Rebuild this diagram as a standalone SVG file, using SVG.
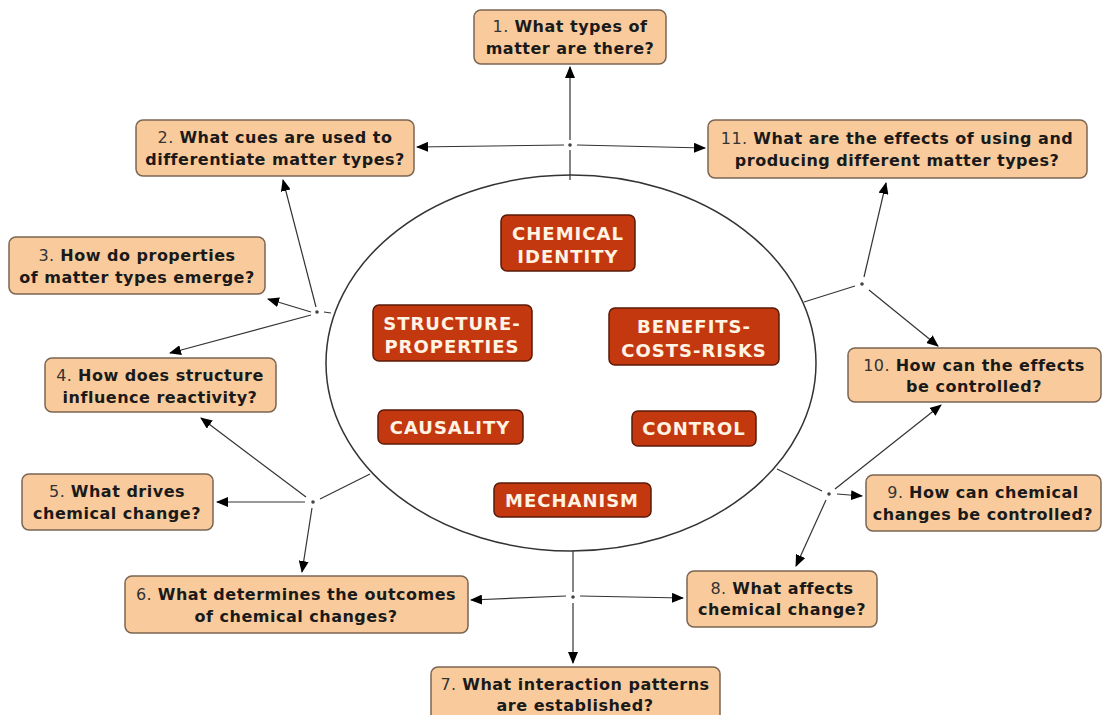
<svg xmlns="http://www.w3.org/2000/svg" width="1102" height="715" viewBox="0 0 1102 715">
<style>
.q rect{fill:#F9CB9C;stroke:#7a6552;stroke-width:1.5}
.q text{font-family:"DejaVu Sans",Verdana,sans-serif;font-size:16px;letter-spacing:0.5px;font-weight:bold;fill:#1a1a1a;text-anchor:middle}
.q tspan.n{font-weight:normal;fill:#333}
.c rect{fill:#C4380F;stroke:#5a1a08;stroke-width:1.5}
.c text{font-family:"DejaVu Sans",Verdana,sans-serif;font-size:18px;letter-spacing:1px;font-weight:bold;fill:#FFF3E3;text-anchor:middle}
.ln line{stroke:#333;stroke-width:1.2;fill:none}
.ln line.a{marker-end:url(#ah)}
.j{fill:#444}
</style>
<defs>
<marker id="ah" viewBox="0 0 12 10" refX="11" refY="5" markerWidth="12" markerHeight="10" markerUnits="userSpaceOnUse" orient="auto">
<path d="M0,0 L12,5 L0,10 z" fill="#000"/>
</marker>
</defs>
<rect width="1102" height="715" fill="#fff"/>
<g id="ellipse"><ellipse cx="571" cy="363" rx="245" ry="188" fill="#fff" stroke="#333" stroke-width="1.5"/></g>

<g class="ln" id="connectors">
<line x1="570" y1="180" x2="570" y2="150"/>
<line class="a" x1="570" y1="140" x2="570" y2="67"/>
<line class="a" x1="564" y1="145" x2="417" y2="147"/>
<line class="a" x1="577" y1="145" x2="705" y2="148"/>
<circle class="j" cx="570" cy="145" r="1.8"/>

<line x1="331" y1="313" x2="324" y2="312"/>
<line class="a" x1="316" y1="307" x2="283" y2="180"/>
<line class="a" x1="311" y1="312" x2="268" y2="299"/>
<line class="a" x1="311" y1="315" x2="170" y2="353"/>
<circle class="j" cx="317" cy="312" r="1.8"/>

<line x1="370" y1="474" x2="320" y2="499"/>
<line class="a" x1="306" y1="497" x2="201" y2="418"/>
<line class="a" x1="305" y1="502" x2="217" y2="502"/>
<line class="a" x1="312" y1="508" x2="302" y2="572"/>
<circle class="j" cx="313" cy="502" r="1.8"/>

<line x1="573" y1="551" x2="573" y2="592"/>
<line class="a" x1="566" y1="596" x2="471" y2="600"/>
<line class="a" x1="573" y1="603" x2="573" y2="663"/>
<line class="a" x1="580" y1="596" x2="683" y2="598"/>
<circle class="j" cx="573" cy="597" r="1.8"/>

<line x1="777" y1="469" x2="822" y2="491"/>
<line class="a" x1="837" y1="494" x2="862" y2="496"/>
<line class="a" x1="835" y1="489" x2="941" y2="405"/>
<line class="a" x1="826" y1="500" x2="796" y2="566"/>
<circle class="j" cx="829" cy="494" r="1.8"/>

<line x1="804" y1="302" x2="855" y2="286"/>
<line class="a" x1="864" y1="277" x2="886" y2="183"/>
<line class="a" x1="869" y1="290" x2="938" y2="346"/>
<circle class="j" cx="862" cy="284" r="1.8"/>
</g>

<g class="c" id="chemical-identity"><rect x="501" y="215" width="134" height="56" rx="6"/><text x="568" y="240">CHEMICAL</text><text x="568" y="263">IDENTITY</text></g>
<g class="c" id="structure-properties"><rect x="373" y="305" width="159" height="56" rx="6"/><text x="452" y="330">STRUCTURE-</text><text x="452" y="353">PROPERTIES</text></g>
<g class="c" id="benefits-costs-risks"><rect x="609" y="308" width="170" height="57" rx="6"/><text x="694" y="333">BENEFITS-</text><text x="694" y="357">COSTS-RISKS</text></g>
<g class="c" id="causality"><rect x="378" y="410" width="145" height="34" rx="6"/><text x="450" y="434">CAUSALITY</text></g>
<g class="c" id="control"><rect x="632" y="411" width="124" height="35" rx="6"/><text x="694" y="435">CONTROL</text></g>
<g class="c" id="mechanism"><rect x="494" y="483" width="157" height="34" rx="6"/><text x="572" y="507">MECHANISM</text></g>

<g class="q" id="q1"><rect x="474" y="10" width="192" height="54" rx="7"/><text x="570" y="32"><tspan class="n">1. </tspan>What types of</text><text x="570" y="54">matter are there?</text></g>
<g class="q" id="q2"><rect x="136" y="120" width="278" height="56" rx="7"/><text x="275" y="143"><tspan class="n">2. </tspan>What cues are used to</text><text x="275" y="165">differentiate matter types?</text></g>
<g class="q" id="q3"><rect x="9" y="237" width="256" height="57" rx="7"/><text x="137" y="261"><tspan class="n">3. </tspan>How do properties</text><text x="137" y="283">of matter types emerge?</text></g>
<g class="q" id="q4"><rect x="45" y="358" width="231" height="54" rx="7"/><text x="160" y="381"><tspan class="n">4. </tspan>How does structure</text><text x="160" y="403">influence reactivity?</text></g>
<g class="q" id="q5"><rect x="22" y="474" width="191" height="56" rx="7"/><text x="117" y="497"><tspan class="n">5. </tspan>What drives</text><text x="117" y="519">chemical change?</text></g>
<g class="q" id="q6"><rect x="125" y="576" width="343" height="57" rx="7"/><text x="296" y="600"><tspan class="n">6. </tspan>What determines the outcomes</text><text x="296" y="622">of chemical changes?</text></g>
<g class="q" id="q7"><rect x="431" y="667" width="289" height="56" rx="7"/><text x="575" y="690"><tspan class="n">7. </tspan>What interaction patterns</text><text x="575" y="711">are established?</text></g>
<g class="q" id="q8"><rect x="687" y="571" width="190" height="56" rx="7"/><text x="782" y="594"><tspan class="n">8. </tspan>What affects</text><text x="782" y="615">chemical change?</text></g>
<g class="q" id="q9"><rect x="866" y="475" width="235" height="56" rx="7"/><text x="983" y="498"><tspan class="n">9. </tspan>How can chemical</text><text x="983" y="520">changes be controlled?</text></g>
<g class="q" id="q10"><rect x="848" y="348" width="253" height="54" rx="7"/><text x="974" y="371"><tspan class="n">10. </tspan>How can the effects</text><text x="974" y="392">be controlled?</text></g>
<g class="q" id="q11"><rect x="708" y="120" width="379" height="58" rx="7"/><text x="897" y="144"><tspan class="n">11. </tspan>What are the effects of using and</text><text x="897" y="166">producing different matter types?</text></g>
</svg>
